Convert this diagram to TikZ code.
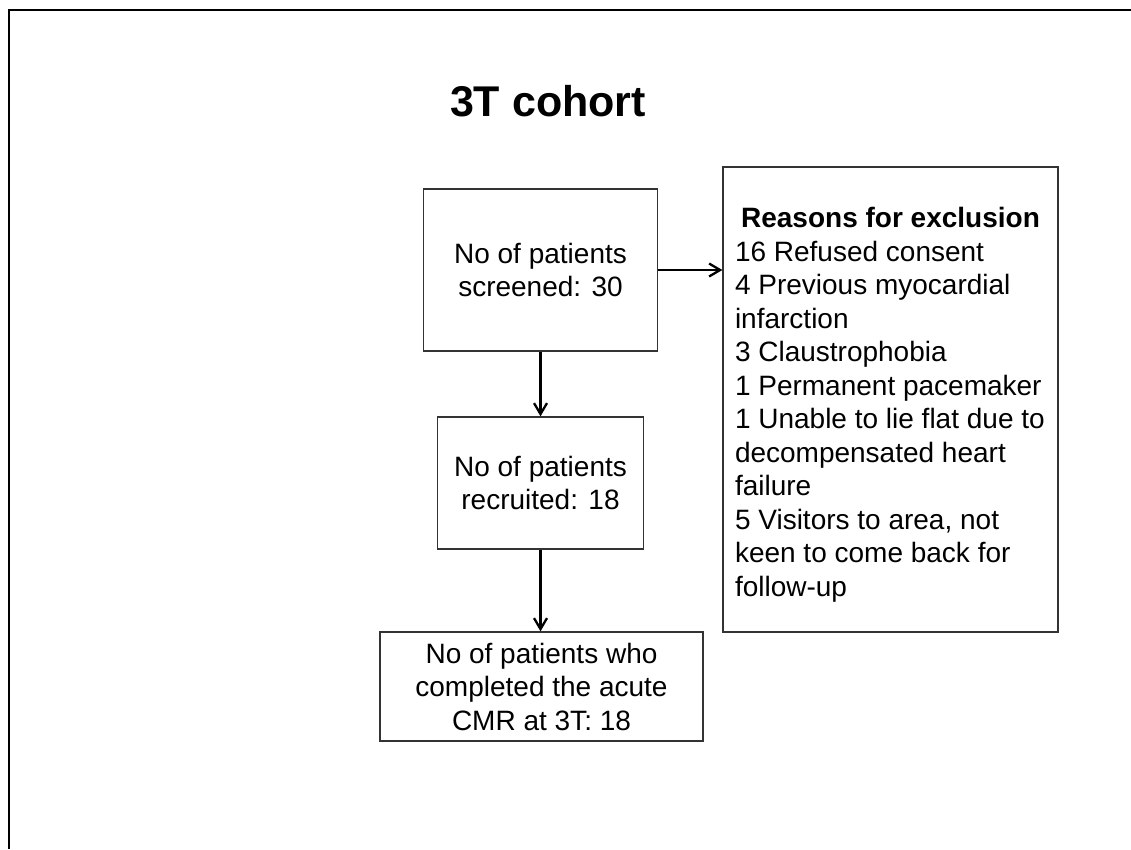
\documentclass[tikz,border=0pt]{standalone}
\usepackage{fontspec}
\setmainfont{Liberation Sans}
\usetikzlibrary{arrows.meta}

\begin{document}
\begin{tikzpicture}[x=1pt,y=-1pt,
  flowbox/.style={draw=black!80, line width=1.3pt, shape=rectangle, align=center,
    font=\fontsize{28}{33.5}\selectfont, inner sep=0pt},
  flowarrow/.style={black, line width=2.3pt, -{Straight Barb[length=11pt,width=13pt]}}]

%% - Page size and frame
%% - --------------------------------------

\useasboundingbox (0,0) rectangle (1131,849);
\draw[black, line width=2.5pt] (9,849) -- (9,10) -- (1131,10);

%% - Title
%% - --------------------------------------

\node[anchor=base, font=\fontsize{43}{50}\selectfont\bfseries] (title) at (548,116) {3T cohort};

%% - Boxes
%% - --------------------------------------

\node[flowbox, minimum width=234pt, minimum height=162pt] (screened) at (540.5,270) {No of patients\\screened: 30};
\node[flowbox, minimum width=206pt, minimum height=132pt] (recruited) at (540.5,483) {No of patients\\recruited: 18};
\node[flowbox, minimum width=323pt, minimum height=109pt] (completed) at (541.5,686.5) {No of patients who\\completed the acute\\CMR at 3T: 18};

%% - Reasons for exclusion
\node[flowbox, align=flush left, text width=311pt, inner xsep=12pt, minimum width=335pt, minimum height=465pt] (reasons) at (890.5,399.5)
  {\rule{0pt}{31pt}\hfill\textbf{Reasons for exclusion}\hfill\null\\
   16 Refused consent\\
   4 Previous myocardial\\
   infarction\\
   3 Claustrophobia\\
   1 Permanent pacemaker\\
   1 Unable to lie flat due to\\
   decompensated heart\\
   failure\\
   5 Visitors to area, not\\
   keen to come back for\\
   follow-up};

%% - Arrows
%% - --------------------------------------

\draw[flowarrow] (screened) -- (recruited);
\draw[flowarrow] (recruited) -- (completed.north -| recruited);
\draw[flowarrow] (screened.east) -- (screened.east -| reasons.west);

\end{tikzpicture}
\end{document}
